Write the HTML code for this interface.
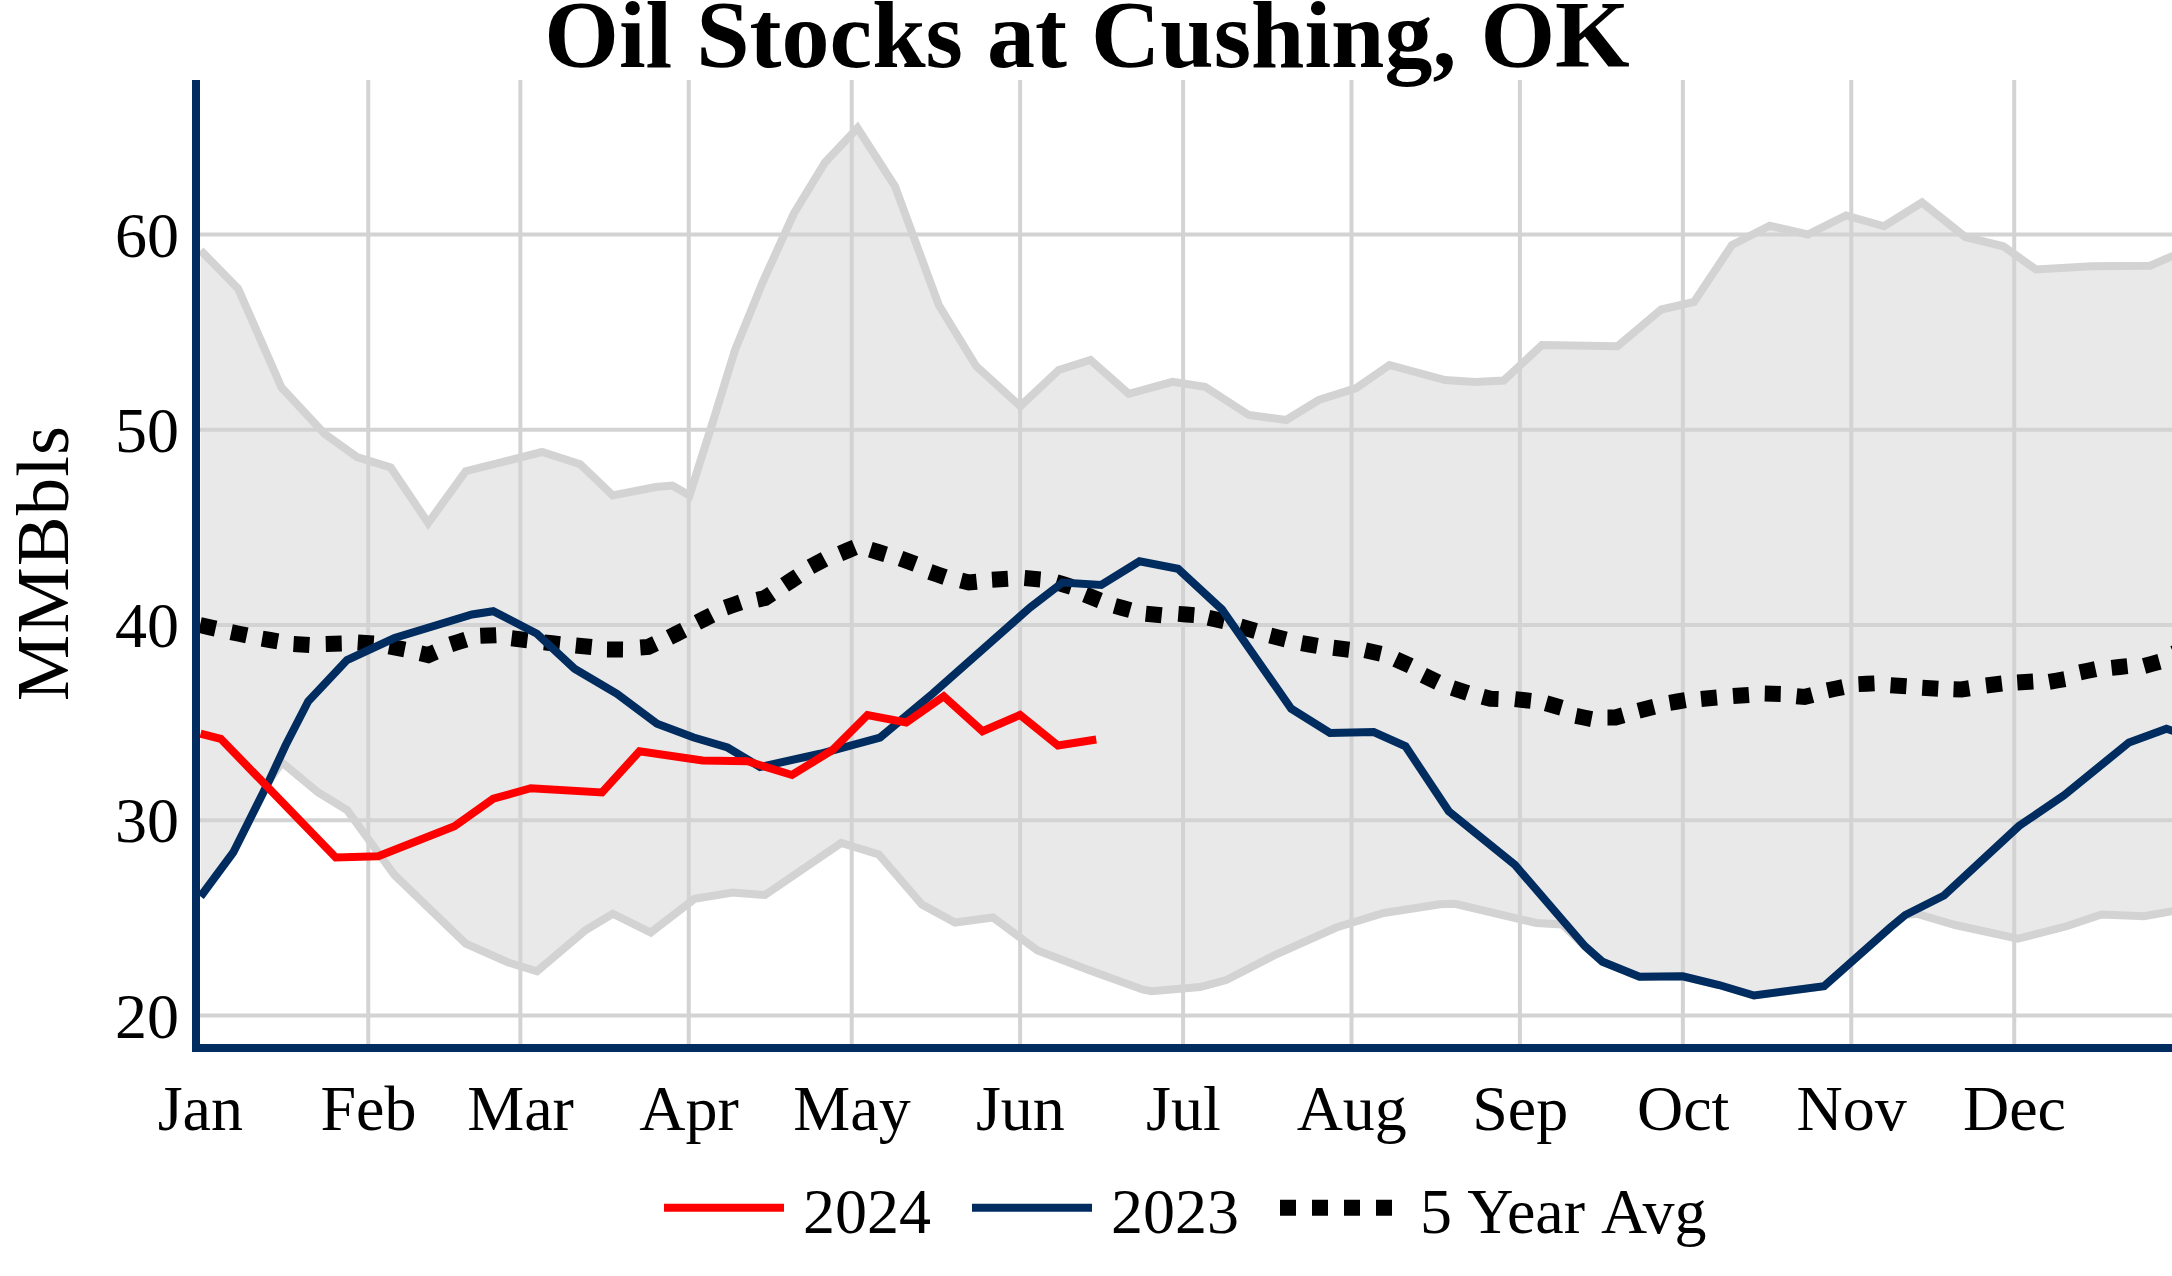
<!DOCTYPE html>
<html><head><meta charset="utf-8"><title>Oil Stocks at Cushing, OK</title>
<style>
html,body{margin:0;padding:0;background:#fff;}
body{width:2172px;height:1276px;overflow:hidden;font-family:"Liberation Serif",serif;}
svg{display:block;}
text{font-family:"Liberation Serif",serif;fill:#000;}
</style></head><body>
<svg width="2172" height="1276" viewBox="0 0 2172 1276">
<rect width="2172" height="1276" fill="#fff"/>
<defs><clipPath id="pc"><rect x="200" y="80" width="1972" height="964"/></clipPath></defs>

<g stroke="#d3d3d3" stroke-width="4" fill="none">
<line x1="368.25" y1="80" x2="368.25" y2="1044"/>
<line x1="520.36" y1="80" x2="520.36" y2="1044"/>
<line x1="688.76" y1="80" x2="688.76" y2="1044"/>
<line x1="851.73" y1="80" x2="851.73" y2="1044"/>
<line x1="1020.13" y1="80" x2="1020.13" y2="1044"/>
<line x1="1183.1" y1="80" x2="1183.1" y2="1044"/>
<line x1="1351.5" y1="80" x2="1351.5" y2="1044"/>
<line x1="1519.9" y1="80" x2="1519.9" y2="1044"/>
<line x1="1682.87" y1="80" x2="1682.87" y2="1044"/>
<line x1="1851.27" y1="80" x2="1851.27" y2="1044"/>
<line x1="2014.24" y1="80" x2="2014.24" y2="1044"/>
<line x1="200" y1="234.5" x2="2172" y2="234.5"/>
<line x1="200" y1="429.75" x2="2172" y2="429.75"/>
<line x1="200" y1="625" x2="2172" y2="625"/>
<line x1="200" y1="820.25" x2="2172" y2="820.25"/>
<line x1="200" y1="1015.5" x2="2172" y2="1015.5"/>
</g>
<g clip-path="url(#pc)">
<path d="M200.60,250.30 L238.20,288.80 L281.50,387.50 L324.50,433.80 L357.00,457.00 L390.70,467.50 L428.20,523.00 L465.70,471.20 L542.00,452.00 L580.20,464.20 L612.70,495.50 L655.70,487.00 L672.50,485.60 L689.50,495.50 L713.75,419.00 L735.00,350.00 L762.50,282.50 L793.75,213.75 L825.00,162.50 L857.50,128.00 L895.00,186.25 L938.75,305.00 L976.25,366.25 L1020.25,406.25 L1058.75,370.00 L1090.50,360.00 L1128.75,393.75 L1172.50,381.80 L1205.00,386.75 L1248.75,415.00 L1286.25,420.00 L1318.75,400.00 L1356.25,388.00 L1389.50,365.00 L1445.00,380.00 L1475.00,382.00 L1503.75,380.50 L1542.00,345.00 L1617.50,346.25 L1661.25,309.50 L1694.00,302.00 L1732.00,245.00 L1769.75,225.75 L1807.75,234.50 L1846.00,215.50 L1884.00,226.25 L1922.00,202.50 L1965.25,237.00 L2003.25,246.25 L2036.00,269.50 L2091.50,266.25 L2150.25,265.75 L2176.00,254.50 L2176.00,910.50 L2144.00,916.25 L2101.50,914.50 L2066.50,926.25 L2017.75,938.75 L1955.25,925.00 L1916.50,913.75 L1905.25,915.00 L1890.25,927.50 L1824.00,986.25 L1754.00,995.50 L1719.00,985.00 L1682.75,976.25 L1639.50,976.75 L1602.50,961.75 L1585.00,946.25 L1562.50,924.50 L1536.25,923.00 L1455.00,903.75 L1440.00,904.25 L1383.75,913.00 L1336.25,927.50 L1277.50,953.75 L1226.25,980.00 L1200.00,987.00 L1151.25,991.25 L1142.50,989.50 L1090.00,970.50 L1037.50,950.50 L993.00,917.50 L955.00,922.50 L922.00,904.50 L878.75,854.50 L841.25,843.00 L765.00,895.00 L732.50,892.50 L694.50,898.75 L650.75,932.50 L612.75,913.75 L585.75,930.00 L537.00,971.25 L508.25,962.50 L465.75,943.75 L394.50,875.00 L347.00,810.00 L318.25,792.50 L282.00,762.50 L269.50,780.00 L233.25,852.50 L200.60,896.50 Z" fill="rgba(211,211,211,0.5)" stroke="none"/>
<path d="M200.60,250.30 L238.20,288.80 L281.50,387.50 L324.50,433.80 L357.00,457.00 L390.70,467.50 L428.20,523.00 L465.70,471.20 L542.00,452.00 L580.20,464.20 L612.70,495.50 L655.70,487.00 L672.50,485.60 L689.50,495.50 L713.75,419.00 L735.00,350.00 L762.50,282.50 L793.75,213.75 L825.00,162.50 L857.50,128.00 L895.00,186.25 L938.75,305.00 L976.25,366.25 L1020.25,406.25 L1058.75,370.00 L1090.50,360.00 L1128.75,393.75 L1172.50,381.80 L1205.00,386.75 L1248.75,415.00 L1286.25,420.00 L1318.75,400.00 L1356.25,388.00 L1389.50,365.00 L1445.00,380.00 L1475.00,382.00 L1503.75,380.50 L1542.00,345.00 L1617.50,346.25 L1661.25,309.50 L1694.00,302.00 L1732.00,245.00 L1769.75,225.75 L1807.75,234.50 L1846.00,215.50 L1884.00,226.25 L1922.00,202.50 L1965.25,237.00 L2003.25,246.25 L2036.00,269.50 L2091.50,266.25 L2150.25,265.75 L2176.00,254.50" fill="none" stroke="#d3d3d3" stroke-width="8" stroke-linejoin="miter" stroke-miterlimit="2"/>
<path d="M200.60,896.50 L233.25,852.50 L269.50,780.00 L282.00,762.50 L318.25,792.50 L347.00,810.00 L394.50,875.00 L465.75,943.75 L508.25,962.50 L537.00,971.25 L585.75,930.00 L612.75,913.75 L650.75,932.50 L694.50,898.75 L732.50,892.50 L765.00,895.00 L841.25,843.00 L878.75,854.50 L922.00,904.50 L955.00,922.50 L993.00,917.50 L1037.50,950.50 L1090.00,970.50 L1142.50,989.50 L1151.25,991.25 L1200.00,987.00 L1226.25,980.00 L1277.50,953.75 L1336.25,927.50 L1383.75,913.00 L1440.00,904.25 L1455.00,903.75 L1536.25,923.00 L1562.50,924.50 L1585.00,946.25 L1602.50,961.75 L1639.50,976.75 L1682.75,976.25 L1719.00,985.00 L1754.00,995.50 L1824.00,986.25 L1890.25,927.50 L1905.25,915.00 L1916.50,913.75 L1955.25,925.00 L2017.75,938.75 L2066.50,926.25 L2101.50,914.50 L2144.00,916.25 L2176.00,910.50" fill="none" stroke="#d3d3d3" stroke-width="8" stroke-linejoin="miter" stroke-miterlimit="2"/>
<path d="M199.99,625.18 L207.80,626.90 L215.61,628.62 M231.17,632.10 L239.00,633.75 L246.83,635.40 M262.12,638.64 L270.00,640.00 L277.88,641.36 M293.51,644.03 L301.50,644.50 L309.49,644.97 M325.75,643.94 L333.75,643.75 L341.75,643.56 M357.77,642.46 L365.75,643.00 L373.73,643.54 M389.14,646.49 L397.00,648.00 L404.86,649.51 M420.44,653.25 L428.25,655.00 L435.59,651.82 M450.64,644.47 L458.25,642.00 L465.86,639.53 M480.26,635.86 L488.25,635.50 L496.24,635.14 M511.56,638.28 L519.50,639.25 L527.44,640.22 M544.05,642.38 L552.00,643.25 L559.95,644.12 M575.79,645.46 L583.75,646.25 L591.71,647.04 M607.00,649.41 L615.00,649.50 L623.00,649.59 M640.27,647.60 L648.25,647.00 L655.49,643.60 M669.35,637.34 L676.50,633.75 L683.65,630.16 M697.37,622.38 L704.50,618.75 L711.63,615.12 M725.43,607.60 L733.00,605.00 L740.57,602.40 M757.18,599.71 L765.00,598.00 L771.66,593.56 M784.59,584.94 L791.25,580.50 L797.91,576.06 M810.44,566.76 L817.50,563.00 L824.56,559.24 M840.12,553.58 L847.50,550.50 L854.88,547.42 M870.36,549.64 L878.00,552.00 L885.64,554.36 M900.52,558.42 L908.00,561.25 L915.48,564.08 M929.95,571.86 L937.50,574.50 L945.05,577.14 M961.00,580.52 L968.75,582.50 L976.71,581.67 M992.01,579.72 L1000.00,579.25 L1007.99,578.78 M1024.53,578.09 L1032.50,578.75 L1040.47,579.41 M1056.11,582.11 L1063.75,584.50 L1071.39,586.89 M1085.07,594.53 L1092.50,597.50 L1099.93,600.47 M1114.79,605.86 L1122.50,608.00 L1130.21,610.14 M1145.79,613.69 L1153.75,614.50 L1161.71,615.31 M1178.28,613.86 L1186.25,614.50 L1194.22,615.14 M1208.45,617.70 L1216.25,619.50 L1224.05,621.30 M1240.32,626.51 L1248.00,628.75 L1255.68,630.99 M1270.25,635.52 L1278.00,637.50 L1285.75,639.48 M1301.62,643.10 L1309.50,644.50 L1317.38,645.90 M1333.31,647.81 L1341.25,648.75 L1349.19,649.69 M1365.19,650.26 L1373.00,652.00 L1380.81,653.74 M1395.75,659.13 L1403.00,662.50 L1410.25,665.87 M1423.32,675.22 L1430.50,678.75 L1437.68,682.28 M1452.41,687.97 L1460.00,690.50 L1467.59,693.03 M1482.78,696.66 L1490.50,698.75 L1498.49,699.06 M1515.05,699.15 L1523.00,700.00 L1530.95,700.85 M1546.06,703.29 L1553.75,705.50 L1561.44,707.71 M1575.90,715.97 L1583.75,717.50 L1591.60,719.03 M1607.50,717.50 L1615.50,717.50 L1623.19,715.31 M1638.50,710.75 L1646.25,708.75 L1654.00,706.75 M1669.61,702.82 L1677.50,701.50 L1685.39,700.18 M1701.04,699.00 L1709.00,698.25 L1716.96,697.50 M1733.02,696.06 L1741.00,695.50 L1748.98,694.94 M1764.75,693.56 L1772.75,693.75 L1780.75,693.94 M1796.54,696.19 L1804.50,697.00 L1812.23,694.93 M1827.43,690.42 L1835.25,688.75 L1843.07,687.08 M1858.51,684.13 L1866.50,683.75 L1874.49,683.37 M1890.52,685.19 L1898.50,685.75 L1906.48,686.31 M1922.26,687.77 L1930.25,688.25 L1938.24,688.73 M1953.51,689.18 L1961.50,689.50 L1969.41,688.28 M1986.05,685.43 L1994.00,684.50 L2001.95,683.57 M2017.27,682.51 L2025.25,682.00 L2033.23,681.49 M2049.13,681.92 L2057.00,680.50 L2064.87,679.08 M2079.93,672.44 L2087.75,670.75 L2095.57,669.06 M2111.55,667.85 L2119.50,667.00 L2127.45,666.15 M2144.09,666.03 L2151.80,663.90 L2159.51,661.77 M2173.78,653.44 L2181.00,650.00 L2188.22,646.56" fill="none" stroke="#000" stroke-width="16" stroke-linejoin="miter" stroke-miterlimit="4"/>
<path d="M200.60,896.50 L233.25,852.50 L269.50,780.00 L285.75,745.00 L308.25,701.25 L347.00,660.00 L394.50,638.00 L472.00,614.50 L493.25,611.25 L537.00,633.75 L574.50,668.75 L617.00,693.75 L657.00,723.75 L693.75,737.50 L727.50,747.50 L760.00,767.00 L820.00,753.75 L880.00,737.50 L932.50,693.75 L1030.00,607.50 L1062.50,582.50 L1101.25,585.00 L1139.50,561.25 L1178.00,568.75 L1222.00,609.50 L1291.25,708.75 L1330.00,733.00 L1373.75,732.00 L1405.50,746.25 L1448.75,811.25 L1515.00,865.00 L1585.00,946.25 L1602.50,961.75 L1639.50,976.75 L1682.75,976.25 L1719.00,985.00 L1754.00,995.50 L1824.00,986.25 L1890.25,927.50 L1905.25,915.00 L1944.00,895.50 L2019.00,826.00 L2064.00,795.25 L2129.00,742.50 L2166.50,728.75 L2176.00,732.00" fill="none" stroke="#002c5f" stroke-width="8" stroke-linejoin="miter" stroke-miterlimit="2"/>
<path d="M200.60,733.70 L220.75,738.75 L335.75,857.50 L378.25,856.25 L454.50,826.25 L493.25,798.75 L530.75,788.25 L602.00,792.50 L639.50,751.25 L702.50,760.50 L747.50,761.25 L792.00,775.00 L832.50,750.00 L867.50,715.00 L906.25,722.50 L943.75,696.25 L982.50,731.25 L1020.00,715.00 L1058.00,745.50 L1096.25,739.50" fill="none" stroke="#ff0000" stroke-width="8" stroke-linejoin="miter" stroke-miterlimit="2"/>
</g>
<rect x="192" y="80" width="8" height="972" fill="#002c5f"/>
<rect x="192" y="1044" width="1980" height="8" fill="#002c5f"/>
<text x="1087" y="67" text-anchor="middle" font-size="96" font-weight="bold">Oil Stocks at Cushing, OK</text>
<text x="179" y="256.5" text-anchor="end" font-size="64">60</text>
<text x="179" y="451.8" text-anchor="end" font-size="64">50</text>
<text x="179" y="647.0" text-anchor="end" font-size="64">40</text>
<text x="179" y="842.2" text-anchor="end" font-size="64">30</text>
<text x="179" y="1037.5" text-anchor="end" font-size="64">20</text>
<text x="200.3" y="1130" text-anchor="middle" font-size="64">Jan</text>
<text x="368.5" y="1130" text-anchor="middle" font-size="64">Feb</text>
<text x="520.61" y="1130" text-anchor="middle" font-size="64">Mar</text>
<text x="689.01" y="1130" text-anchor="middle" font-size="64">Apr</text>
<text x="851.98" y="1130" text-anchor="middle" font-size="64">May</text>
<text x="1020.38" y="1130" text-anchor="middle" font-size="64">Jun</text>
<text x="1183.35" y="1130" text-anchor="middle" font-size="64">Jul</text>
<text x="1351.75" y="1130" text-anchor="middle" font-size="64">Aug</text>
<text x="1520.15" y="1130" text-anchor="middle" font-size="64">Sep</text>
<text x="1683.12" y="1130" text-anchor="middle" font-size="64">Oct</text>
<text x="1851.52" y="1130" text-anchor="middle" font-size="64">Nov</text>
<text x="2014.49" y="1130" text-anchor="middle" font-size="64">Dec</text>
<text transform="translate(67.6,563) rotate(-90)" text-anchor="middle" font-size="74.67" letter-spacing="1.1">MMBbls</text>
<line x1="664" y1="1207.7" x2="784" y2="1207.7" stroke="#ff0000" stroke-width="8"/>
<text x="803" y="1233" font-size="64">2024</text>
<line x1="972" y1="1207.7" x2="1092" y2="1207.7" stroke="#002c5f" stroke-width="8"/>
<text x="1111" y="1233" font-size="64">2023</text>
<line x1="1280" y1="1207.7" x2="1400" y2="1207.7" stroke="#000" stroke-width="16" stroke-dasharray="16 16"/>
<text x="1420" y="1233" font-size="64">5 <tspan dx="1.5">Year</tspan> <tspan dx="3.5">Avg</tspan></text>
</svg></body></html>
